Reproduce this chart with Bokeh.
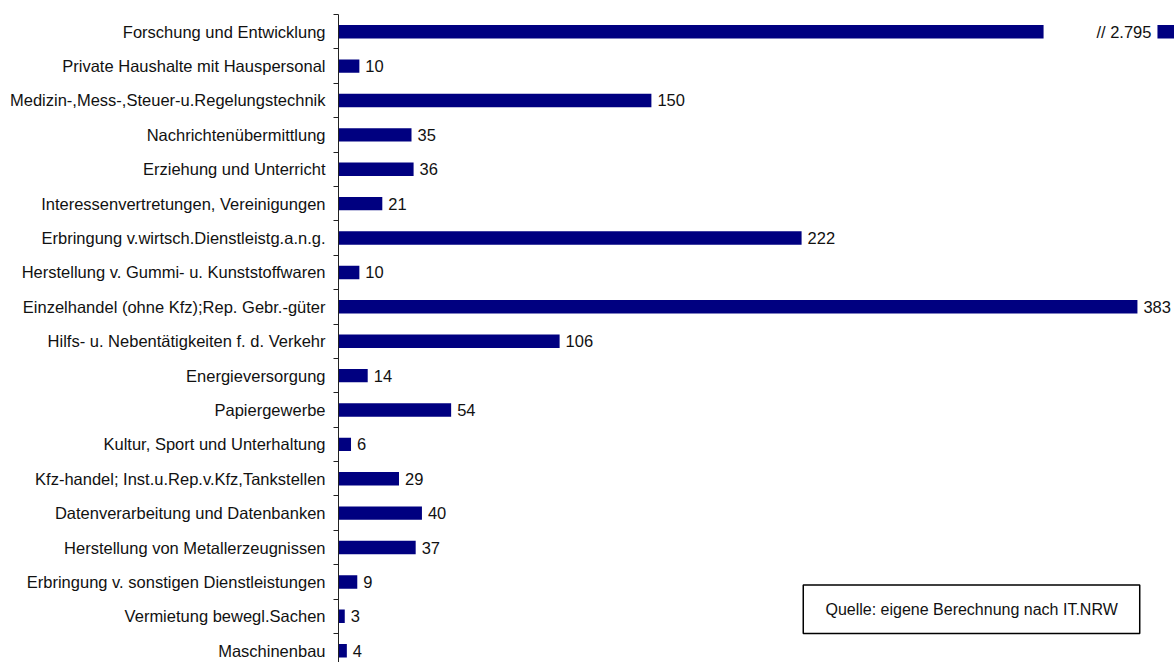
from bokeh.plotting import figure
from bokeh.models import Range1d, FixedTicker, ColumnDataSource
from bokeh.core.properties import value
from bokeh.embed import file_html
from bokeh.resources import INLINE

categories = [
    "Forschung und Entwicklung",
    "Private Haushalte mit Hauspersonal",
    "Medizin-,Mess-,Steuer-u.Regelungstechnik",
    "Nachrichtenübermittlung",
    "Erziehung und Unterricht",
    "Interessenvertretungen, Vereinigungen",
    "Erbringung v.wirtsch.Dienstleistg.a.n.g.",
    "Herstellung v. Gummi- u. Kunststoffwaren",
    "Einzelhandel (ohne Kfz);Rep. Gebr.-güter",
    "Hilfs- u. Nebentätigkeiten f. d. Verkehr",
    "Energieversorgung",
    "Papiergewerbe",
    "Kultur, Sport und Unterhaltung",
    "Kfz-handel; Inst.u.Rep.v.Kfz,Tankstellen",
    "Datenverarbeitung und Datenbanken",
    "Herstellung von Metallerzeugnissen",
    "Erbringung v. sonstigen Dienstleistungen",
    "Vermietung bewegl.Sachen",
    "Maschinenbau",
]
values = [2795, 10, 150, 35, 36, 21, 222, 10, 383, 106, 14, 54, 6, 29, 40, 37, 9, 3, 4]
break_cap = 338        # where the broken bar is cut on the shown scale
break_resume = 392.6   # where the bar resumes after the break mark
source_note = "Quelle: eigene Berechnung nach IT.NRW"

FONT = "Liberation Sans"
FS = "16.5px"
NAVY = "#000080"

def fmt(v):
    return f"{v:,}".replace(",", ".")

W, H = 1174, 662
left_px, top_px = 338, 14
pitch = 34.39
px_per_unit = 2.086
x_end = (W - left_px) / px_per_unit
y_bottom = -0.5 + (H - top_px) / pitch

n = len(categories)
idx = list(range(n))
is_broken = [v > x_end for v in values]
shown = [break_cap if b else v for v, b in zip(values, is_broken)]
labels = ["" if b else fmt(v) for v, b in zip(values, is_broken)]

p = figure(width=W, height=H, output_backend="svg", toolbar_location=None,
           x_range=Range1d(0, x_end), y_range=Range1d(y_bottom, -0.5),
           min_border_left=left_px, min_border_top=top_px,
           min_border_right=0, min_border_bottom=0,
           x_axis_location=None)
p.outline_line_color = None
p.grid.visible = False
p.background_fill_color = "white"
p.border_fill_color = "white"

src = ColumnDataSource(dict(y=idx, right=shown, lab=labels))
p.hbar(y="y", left=0, right="right", height=0.39, source=src,
       fill_color=NAVY, line_color=None)
p.text(x="right", y="y", text="lab", source=src, x_offset=6,
       text_align="left", text_baseline="middle",
       text_font=value(FONT), text_font_size=FS, text_color="#111111")

# broken bar: continuation piece + label
big = [i for i, b in enumerate(is_broken) if b]
bsrc = ColumnDataSource(dict(y=big, left=[break_resume] * len(big),
                             right=[values[i] for i in big],
                             lab=["// " + fmt(values[i]) for i in big]))
p.hbar(y="y", left="left", right="right", height=0.39, source=bsrc,
       fill_color=NAVY, line_color=None)
p.text(x="left", y="y", text="lab", source=bsrc, x_offset=-6,
       text_align="right", text_baseline="middle",
       text_font=value(FONT), text_font_size=FS, text_color="#111111")

# source note box
p.quad(left=[222.8], right=[384.1], top=[16.09], bottom=[17.5],
       fill_color="white", line_color="black", line_width=1.5)
p.text(x=[303.5], y=[16.8], text=[source_note], text_align="center",
       text_baseline="middle", text_font=value(FONT), text_font_size="16px",
       text_color="#111111")

ax = p.yaxis[0]
ax.ticker = FixedTicker(ticks=idx, minor_ticks=[i - 0.5 for i in range(n + 1)])
ax.major_label_overrides = {i: c for i, c in enumerate(categories)}
ax.major_tick_line_color = None
ax.major_tick_in = 0
ax.major_tick_out = 0
ax.minor_tick_in = 0
ax.minor_tick_out = 5
ax.minor_tick_line_color = "#222222"
ax.axis_line_color = "#222222"
ax.major_label_standoff = 8
ax.major_label_text_font = FONT
ax.major_label_text_font_size = FS
ax.major_label_text_color = "#111111"

open("out.html", "w").write(file_html(p, INLINE))
